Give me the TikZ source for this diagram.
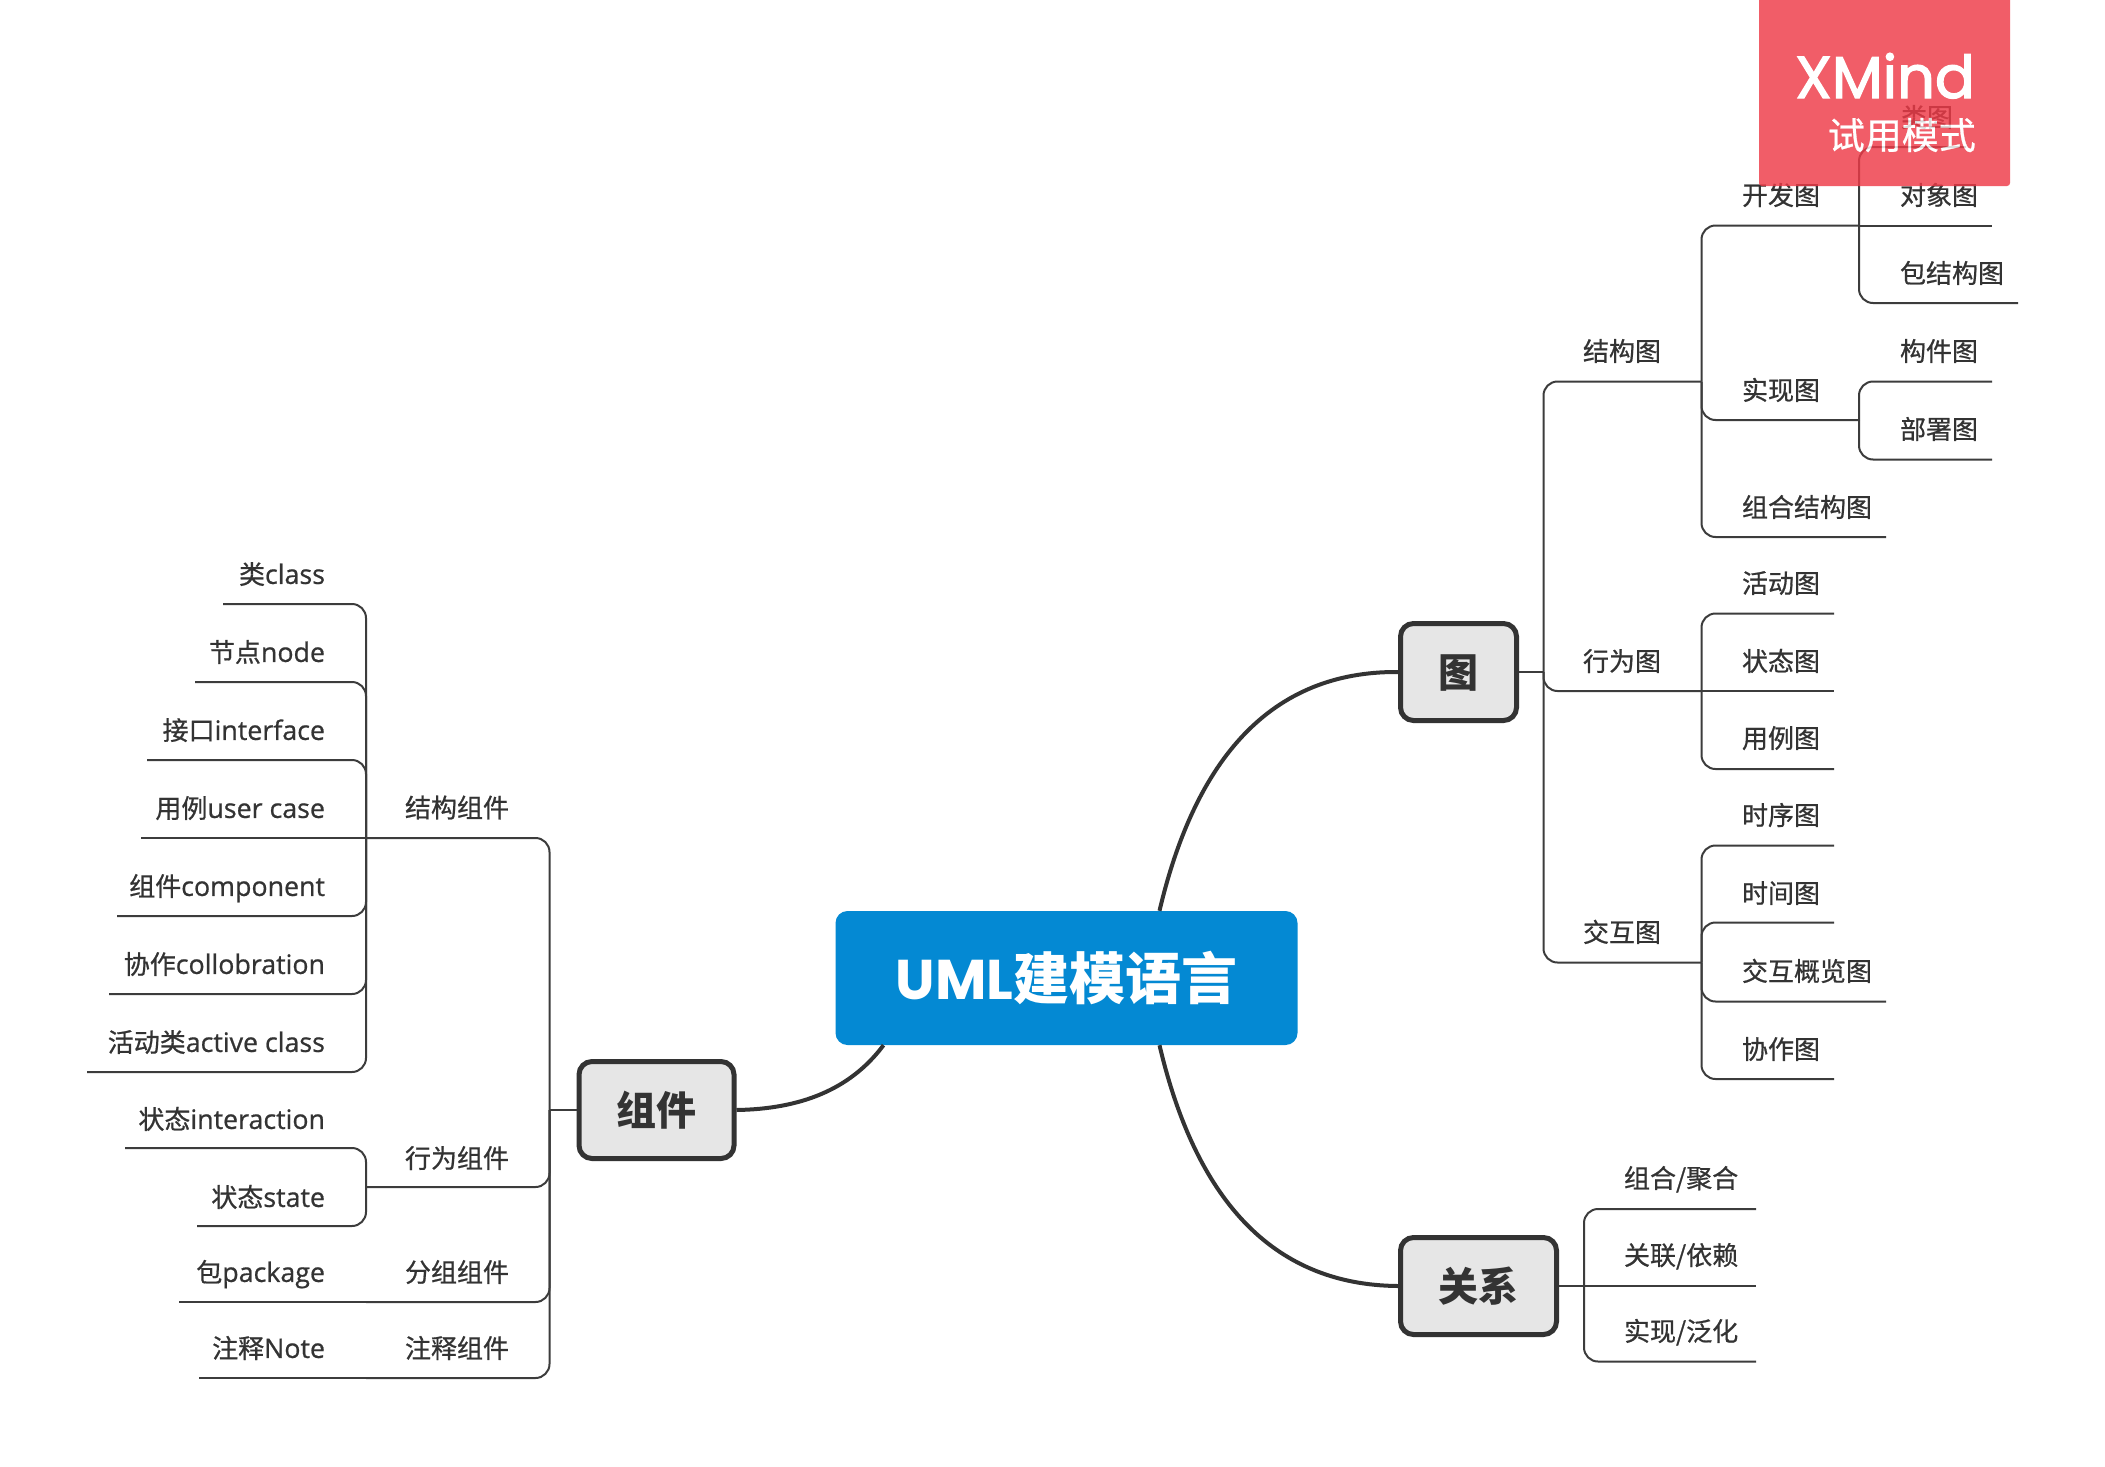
\documentclass[tikz,border=0pt]{standalone}
\usepackage{fontspec}
\setmainfont[Scale=1.03,FakeBold=0.7]{Open Sans}
\newfontfamily\cjkf[FakeBold=0.7]{Noto Sans CJK SC}
\newfontfamily\cjkh{Noto Sans CJK SC}
\newfontfamily\popf{Poppins}
\newfontfamily\popm[FakeBold=2.2]{Poppins}
\newcommand\lat[1]{{\rmfamily #1}}
\definecolor{ink}{HTML}{333333}
\definecolor{wire}{HTML}{3C3C3C}
\definecolor{rootblue}{HTML}{0489D3}
\definecolor{boxgrey}{HTML}{E6E6E6}
\definecolor{markred}{HTML}{EE3A47}
\tikzset{
  lbl/.style={inner sep=0pt,outer sep=0pt,text=ink,text height=22.9pt,text depth=3.1pt,
    font=\cjkf\fontsize{26pt}{26pt}\selectfont},
  lblr/.style={lbl,anchor=west},
  lbll/.style={lbl,anchor=east},
  wired/.style={draw=wire,line width=2pt,rounded corners=14pt},
  bigbox/.style={draw=ink,line width=5pt,fill=boxgrey,rounded corners=13pt,text=ink,
    minimum height=97pt,inner sep=0pt,text height=35pt,text depth=5pt,
    font=\cjkh\bfseries\fontsize{40pt}{40pt}\selectfont},
  rootbox/.style={fill=rootblue,rounded corners=12pt,text=white,minimum width=462pt,
    minimum height=134pt,inner sep=0pt,
    font=\cjkh\bfseries\fontsize{56pt}{56pt}\selectfont},
  curve/.style={draw=ink,line width=4pt}
}
\begin{document}
\begin{tikzpicture}[x=1pt,y=-1pt]
\fill[white,use as bounding box] (0,0) rectangle (2105,1467);

% curves first, nodes above them
\node[rootbox] (root) at (1066.5,978) {\raisebox{3pt}{{\popf\bfseries UML}建模语言}};
\node[bigbox,minimum width=116pt] (tu) at (1458.5,672) {图};
\node[bigbox,minimum width=156pt] (gx) at (1478.5,1286) {关系};
\node[bigbox,minimum width=155pt] (zj) at (656.5,1110) {组件};
\draw[curve] ([xshift=93pt]root.north) .. controls (1195,760) and (1270,671) .. (tu.west);
\draw[curve] ([xshift=93pt]root.south) .. controls (1195,1196) and (1270,1285) .. (gx.west);
\draw[curve] ([xshift=-183pt]root.south) .. controls (850,1090) and (800,1109) .. (zj.east);

% right: diagrams
\coordinate (tuJ) at (1543.5,672);
\draw[wired] (tu.east) -- (tuJ);
\node[lblr] (jg) at (1583,351) {结构图}; \coordinate (jgE) at (1701.5,381.5);
\node[lblr] (xw) at (1583,661) {行为图}; \coordinate (xwE) at (1701.5,691);
\node[lblr] (jh) at (1583,932) {交互图}; \coordinate (jhE) at (1701.5,962.5);
\draw[wired] (tuJ) |- (jgE);
\draw[wired] (tuJ) |- (xwE);
\draw[wired] (tuJ) |- (jhE);

\node[lblr] (kf) at (1742,195) {开发图}; \coordinate (kfE) at (1859,225.5);
\node[lblr] (sx) at (1742,390) {实现图}; \coordinate (sxE) at (1859,420);
\node[lblr] (zh) at (1742,507) {组合结构图}; \coordinate (zhE) at (1886,537);
\draw[wired] (jgE) |- (kfE);
\draw[wired] (jgE) |- (sxE);
\draw[wired] (jgE) |- (zhE);

\node[lblr] (lt) at (1901,117) {类图}; \coordinate (ltE) at (1966,147);
\node[lblr] (dx) at (1900,195) {对象图}; \coordinate (dxE) at (1992,225.5);
\node[lblr] (bj) at (1900,273) {包结构图}; \coordinate (bjE) at (2018,303);
\draw[wired] (kfE) |- (ltE);
\draw[wired] (kfE) -- (dxE);
\draw[wired] (kfE) |- (bjE);

\node[lblr] (gj) at (1900,351) {构件图}; \coordinate (gjE) at (1992,381.5);
\node[lblr] (bs) at (1900,429) {部署图}; \coordinate (bsE) at (1992,459.5);
\draw[wired] (sxE) |- (gjE);
\draw[wired] (sxE) |- (bsE);

\node[lblr] (hd) at (1742,583) {活动图}; \coordinate (hdE) at (1834,613.5);
\node[lblr] (zt) at (1742,661) {状态图}; \coordinate (ztE) at (1834,691);
\node[lblr] (yl) at (1742,738) {用例图}; \coordinate (ylE) at (1834,769);
\draw[wired] (xwE) |- (hdE);
\draw[wired] (xwE) -- (ztE);
\draw[wired] (xwE) |- (ylE);

\node[lblr] (sq) at (1742,815) {时序图}; \coordinate (sqE) at (1834,845.5);
\node[lblr] (sj) at (1742,893) {时间图}; \coordinate (sjE) at (1834,922.5);
\node[lblr] (gl) at (1742,971) {交互概览图}; \coordinate (glE) at (1886,1001.5);
\node[lblr] (xz) at (1742,1049) {协作图}; \coordinate (xzE) at (1834,1079);
\draw[wired] (jhE) |- (sqE);
\draw[wired] (jhE) |- (sjE);
\draw[wired] (jhE) |- (glE);
\draw[wired] (jhE) |- (xzE);

% right: relations
\coordinate (gxJ) at (1584,1286);
\draw[wired] (gx.east) -- (gxJ);
\node[lblr] (zu) at (1624,1178) {组合/聚合}; \coordinate (zuE) at (1756,1209);
\node[lblr] (gy) at (1624,1255) {关联/依赖}; \coordinate (gyE) at (1756,1286);
\node[lblr] (fh) at (1624,1331) {实现/泛化}; \coordinate (fhE) at (1756,1361.5);
\draw[wired] (gxJ) |- (zuE);
\draw[wired] (gxJ) -- (gyE);
\draw[wired] (gxJ) |- (fhE);

% left: components
\coordinate (zjJ) at (549.5,1110);
\draw[wired] (zj.west) -- (zjJ);
\node[lblr] (a1) at (405,807.5) {结构组件}; \coordinate (a1E) at (366,838);
\node[lblr] (a2) at (405,1158) {行为组件}; \coordinate (a2E) at (366,1187);
\node[lblr] (a3) at (405,1272) {分组组件}; \coordinate (a3E) at (366,1302);
\node[lblr] (a4) at (405,1348) {注释组件}; \coordinate (a4E) at (366,1378);
\draw[wired] (zjJ) |- (a1E);
\draw[wired] (zjJ) |- (a2E);
\draw[wired] (zjJ) |- (a3E);
\draw[wired] (zjJ) |- (a4E);

\node[lbll] (b1) at (325,574) {类\lat{class}}; \coordinate (b1E) at (223,604);
\node[lbll] (b2) at (325,652) {节点\lat{node}}; \coordinate (b2E) at (195,682);
\node[lbll] (b3) at (325,730) {接口\lat{interface}}; \coordinate (b3E) at (147,760);
\node[lbll] (b4) at (325,808) {用例\lat{user case}}; \coordinate (b4E) at (141,838);
\node[lbll] (b5) at (325,886) {组件\lat{component}}; \coordinate (b5E) at (117,916);
\node[lbll] (b6) at (325,964) {协作\lat{collobration}}; \coordinate (b6E) at (109,994);
\node[lbll] (b7) at (325,1042) {活动类\lat{active class}}; \coordinate (b7E) at (87,1072);
\draw[wired] (a1E) |- (b1E);
\draw[wired] (a1E) |- (b2E);
\draw[wired] (a1E) |- (b3E);
\draw[wired] (a1E) -- (b4E);
\draw[wired] (a1E) |- (b5E);
\draw[wired] (a1E) |- (b6E);
\draw[wired] (a1E) |- (b7E);

\node[lbll] (c1) at (325,1119) {状态\lat{interaction}}; \coordinate (c1E) at (125,1148);
\node[lbll] (c2) at (325,1197) {状态\lat{state}}; \coordinate (c2E) at (197,1226);
\draw[wired] (a2E) |- (c1E);
\draw[wired] (a2E) |- (c2E);

\node[lbll] (d1) at (325,1272) {包\lat{package}}; \coordinate (d1E) at (179,1302);
\draw[wired] (a3E) -- (d1E);
\node[lbll] (e1) at (325,1348) {注释\lat{Note}}; \coordinate (e1E) at (199,1378);
\draw[wired] (a4E) -- (e1E);

% watermark
\begin{scope}[transparency group,opacity=.82]
\fill[markred,rounded corners=3pt] (1759,-10) rectangle (2010,186);
\node[anchor=base east,inner sep=0pt,text=white,font=\popm\fontsize{59pt}{59pt}\selectfont] (xm) at (1975,98) {XMind};
\node[anchor=east,inner sep=0pt,text=white,text height=32.6pt,text depth=4.4pt,font=\cjkf\fontsize{37pt}{37pt}\selectfont] (sy) at (1976,135) {试用模式};
\end{scope}
\end{tikzpicture}
\end{document}
